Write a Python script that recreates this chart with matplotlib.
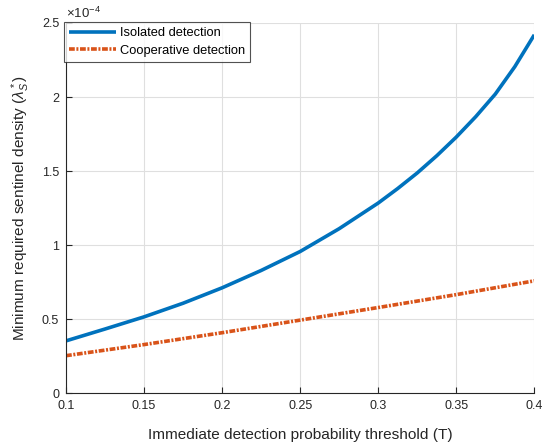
import matplotlib
matplotlib.use("Agg")
import matplotlib.pyplot as plt

plt.rcParams['font.family'] = ['Liberation Sans', 'DejaVu Sans']
plt.rcParams['mathtext.fontset'] = 'custom'
plt.rcParams['mathtext.rm'] = 'Liberation Sans'
plt.rcParams['mathtext.it'] = 'Liberation Sans:italic'

# Data (values in units of 1e-4)
T_iso = [0.10, 0.125, 0.15, 0.175, 0.20, 0.225, 0.25, 0.275, 0.30, 0.3125, 0.325, 0.3375,
         0.35, 0.3625, 0.375, 0.3875, 0.40]
isolated = [0.355, 0.435, 0.517, 0.609, 0.713, 0.830, 0.958, 1.112, 1.285, 1.383, 1.488, 1.604,
            1.730, 1.868, 2.020, 2.205, 2.420]
T_coop = [0.10, 0.15, 0.20, 0.25, 0.30, 0.35, 0.40]
cooperative = [0.255, 0.330, 0.410, 0.495, 0.580, 0.667, 0.760]

xticks = [0.1, 0.15, 0.2, 0.25, 0.3, 0.35, 0.4]
xticklabels = ['0.1', '0.15', '0.2', '0.25', '0.3', '0.35', '0.4']
yticks = [0, 0.5, 1, 1.5, 2, 2.5]
yticklabels = ['0', '0.5', '1', '1.5', '2', '2.5']

fig = plt.figure(figsize=(5.42, 4.48), dpi=100)
ax = fig.add_axes([0.1218, 0.1217, 0.864, 0.8270])

ax.plot(T_iso, isolated, color='#0072BD', lw=2.6, label='Isolated detection',
        solid_capstyle='butt', solid_joinstyle='round')
ax.plot(T_coop, cooperative, color='#D95319', lw=2.6, ls=(0, (1.6, 0.45, 0.55, 0.45)),
        label='Cooperative detection')

ax.set_xlim(0.1, 0.4)
ax.set_ylim(0, 2.5)
ax.set_xticks(xticks)
ax.set_xticklabels(xticklabels)
ax.set_yticks(yticks)
ax.set_yticklabels(yticklabels)

ax.grid(True, color='#DFDFDF', lw=0.8)
ax.set_axisbelow(True)
for s in ['top', 'right']:
    ax.spines[s].set_visible(False)
for s in ['left', 'bottom']:
    ax.spines[s].set_color('#262626')
    ax.spines[s].set_linewidth(0.8)
ax.tick_params(direction='in', length=4, width=0.8, colors='#262626', labelsize=9, pad=5)

ax.set_xlabel('Immediate detection probability threshold (T)', fontsize=11.1, color='#262626', labelpad=11)
ax.set_ylabel(r'Minimum required sentinel density ($\lambda_S^*$)', fontsize=11.1, color='#262626', labelpad=7)

ax.text(0.0, 1.006, r'$\times10^{-4}$', transform=ax.transAxes, fontsize=9.5, color='#262626', ha='left', va='bottom')

leg = ax.legend(loc='upper left', fontsize=9.3, frameon=True, fancybox=False, edgecolor='#262626',
                borderaxespad=0.0, handlelength=3.6, borderpad=0.4, labelspacing=0.4, handletextpad=0.3,
                bbox_to_anchor=(-0.004, 1.002))
leg.get_frame().set_linewidth(0.8)

fig.savefig('out.png', dpi=100)
